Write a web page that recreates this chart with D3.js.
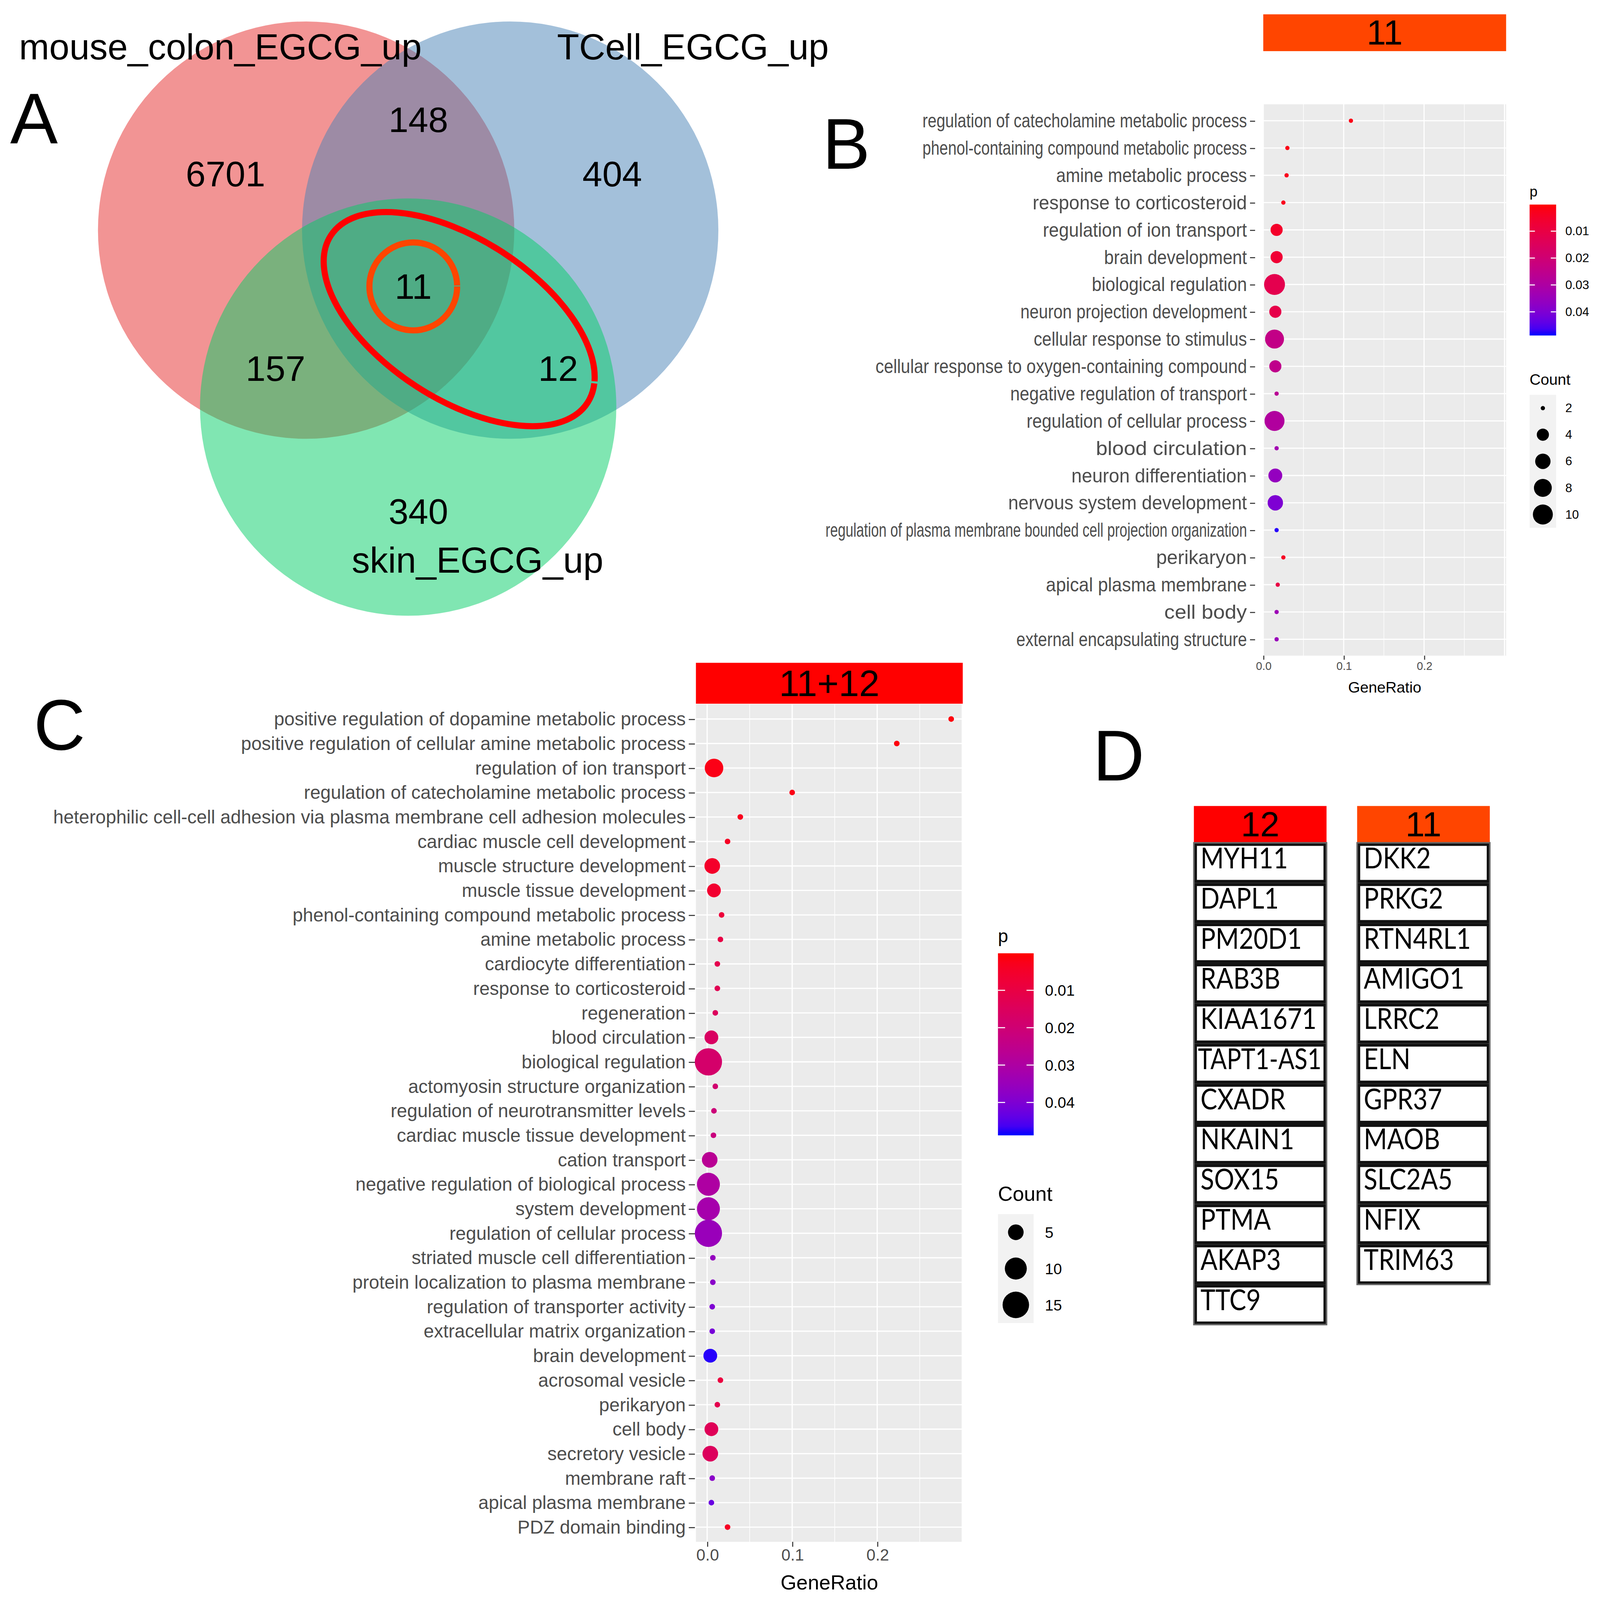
<!DOCTYPE html>
<html lang="en">
<head>
<meta charset="utf-8">
<title>EGCG overlap and GO enrichment</title>
<script src="https://cdn.jsdelivr.net/npm/d3@7"></script>
<style>
html, body { margin: 0; padding: 0; overflow: hidden; background: #fff; }
svg { display: block; width: 100vw; height: 100vh; }
text { font-family: "Liberation Sans", Arial, sans-serif; }
</style>
</head>
<body>
<script>
var W = 4212, H = 4202;
var vw = 1568, vh = vw * H / W;

// ---------- data ----------
var vennSets = ["mouse_colon_EGCG_up", "TCell_EGCG_up", "skin_EGCG_up"];
var vennRegions = ["colon", "colon_tcell", "tcell", "all", "colon_skin", "tcell_skin", "skin"];
var vennCounts = [6701, 148, 404, 11, 157, 12, 340];

var bTitle = "11";
var bTerms = [
  "regulation of catecholamine metabolic process",
  "phenol-containing compound metabolic process",
  "amine metabolic process",
  "response to corticosteroid",
  "regulation of ion transport",
  "brain development",
  "biological regulation",
  "neuron projection development",
  "cellular response to stimulus",
  "cellular response to oxygen-containing compound",
  "negative regulation of transport",
  "regulation of cellular process",
  "blood circulation",
  "neuron differentiation",
  "nervous system development",
  "regulation of plasma membrane bounded cell projection organization",
  "perikaryon",
  "apical plasma membrane",
  "cell body",
  "external encapsulating structure"
];
var bRatio = [0.109, 0.030, 0.029, 0.025, 0.0166, 0.0166, 0.014, 0.015, 0.014, 0.015,
              0.0166, 0.014, 0.0166, 0.015, 0.015, 0.0166, 0.025, 0.018, 0.0166, 0.0166];
var bCount = [2, 2, 2, 2, 4, 4, 11, 4, 9, 4, 2, 10, 2, 5, 6, 2, 2, 2, 2, 2];
var bP = [0.002, 0.002, 0.003, 0.003, 0.005, 0.007, 0.012, 0.011, 0.024, 0.025,
          0.027, 0.029, 0.033, 0.036, 0.040, 0.048, 0.004, 0.010, 0.034, 0.035];

var cTitle = "11+12";
var cTerms = [
  "positive regulation of dopamine metabolic process",
  "positive regulation of cellular amine metabolic process",
  "regulation of ion transport",
  "regulation of catecholamine metabolic process",
  "heterophilic cell-cell adhesion via plasma membrane cell adhesion molecules",
  "cardiac muscle cell development",
  "muscle structure development",
  "muscle tissue development",
  "phenol-containing compound metabolic process",
  "amine metabolic process",
  "cardiocyte differentiation",
  "response to corticosteroid",
  "regeneration",
  "blood circulation",
  "biological regulation",
  "actomyosin structure organization",
  "regulation of neurotransmitter levels",
  "cardiac muscle tissue development",
  "cation transport",
  "negative regulation of biological process",
  "system development",
  "regulation of cellular process",
  "striated muscle cell differentiation",
  "protein localization to plasma membrane",
  "regulation of transporter activity",
  "extracellular matrix organization",
  "brain development",
  "acrosomal vesicle",
  "perikaryon",
  "cell body",
  "secretory vesicle",
  "membrane raft",
  "apical plasma membrane",
  "PDZ domain binding"
];
var cRatio = [0.287, 0.223, 0.0081, 0.100, 0.039, 0.024, 0.006, 0.008, 0.017, 0.0156,
              0.012, 0.012, 0.0096, 0.005, 0.0015, 0.0096, 0.008, 0.0074, 0.003, 0.0015,
              0.0015, 0.0015, 0.0067, 0.0067, 0.006, 0.006, 0.0037, 0.0156, 0.012, 0.005,
              0.0037, 0.006, 0.005, 0.024];
var cCount = [2, 2, 7, 2, 2, 2, 5, 4, 2, 2, 2, 2, 2, 4, 16, 2, 2, 2, 5, 11,
              11, 16, 2, 2, 2, 2, 4, 2, 2, 4, 5, 2, 2, 2];
var cP = [0.001, 0.001, 0.002, 0.002, 0.003, 0.004, 0.005, 0.006, 0.008, 0.010,
          0.012, 0.013, 0.015, 0.016, 0.018, 0.019, 0.021, 0.022, 0.027, 0.030,
          0.032, 0.035, 0.036, 0.038, 0.040, 0.041, 0.048, 0.009, 0.012, 0.014,
          0.015, 0.038, 0.043, 0.004];

var ratioTicks = [0, 0.1, 0.2];
var pTicks = [0.01, 0.02, 0.03, 0.04];
var pRange = [0.0001, 0.0488];
var bCountBreaks = [2, 4, 6, 8, 10];
var cCountBreaks = [5, 10, 15];

var genes12 = ["MYH11", "DAPL1", "PM20D1", "RAB3B", "KIAA1671", "TAPT1-AS1",
               "CXADR", "NKAIN1", "SOX15", "PTMA", "AKAP3", "TTC9"];
var genes11 = ["DKK2", "PRKG2", "RTN4RL1", "AMIGO1", "LRRC2", "ELN",
               "GPR37", "MAOB", "SLC2A5", "NFIX", "TRIM63"];

// ---------- layout ----------
var red = "#ff0000", orange = "#ff4500";
var setFill = ["rgb(229,41,41)", "rgb(71,129,181)", "rgb(1,205,101)"];
var vennCircle = [[-1, 0], [1, 0], [0, 1.73]], vennR = 2.04;
var vennLabelAt = [[-1.84, -1.67], [2.79, -1.67], [0.68, 3.35]];
var regionAt = [[-1.79, -0.55], [0.1, -1.08], [2.0, -0.55], [0.05, 0.55],
                [-1.3, 1.35], [1.47, 1.35], [0.1, 2.75]];
// label widths of panel B (the pasted plot has squeezed labels)
var bLabelW = [318, 318, 187, 210, 200, 140, 152, 222, 209, 364, 232, 216, 148, 172,
               234, 413, 89, 197, 81, 226];

var pColor = d3.scaleLinear().domain(pRange).range([red, "#0000ff"])
               .interpolate(d3.interpolateLab);

var svg = d3.select("body").append("svg")
    .attr("viewBox", "0 0 " + vw + " " + vh)
    .attr("preserveAspectRatio", "none");

svg.append("rect").attr("width", vw).attr("height", vh).attr("fill", "#fff");

function letter(t, x, y) {
  svg.append("text").attr("x", x).attr("y", y).attr("font-size", 70).text(t);
}

// ---------- A: Venn ----------
var vx = d3.scaleLinear().domain([-1, 1]).range([300, 500]);
var vy = d3.scaleLinear().domain([0, 1]).range([225, 325]);
var unit = vx(1) - vx(0);
var gA = svg.append("g");

gA.selectAll("circle.set")
  .data(vennCircle)
  .enter().append("circle")
  .attr("class", "set")
  .attr("cx", function(d) { return vx(d[0]); })
  .attr("cy", function(d) { return vy(d[1]); })
  .attr("r", vennR * unit)
  .attr("fill", function(d, i) { return setFill[i]; })
  .attr("fill-opacity", 0.5);

gA.selectAll("text.region")
  .data(vennCounts)
  .enter().append("text")
  .attr("class", "region")
  .attr("x", function(d, i) { return vx(regionAt[i][0]); })
  .attr("y", function(d, i) { return vy(regionAt[i][1]); })
  .attr("text-anchor", "middle")
  .attr("dominant-baseline", "central")
  .attr("font-size", 35)
  .text(function(d) { return d; });

gA.selectAll("text.setname")
  .data(vennSets)
  .enter().append("text")
  .attr("class", "setname")
  .attr("x", function(d, i) { return vx(vennLabelAt[i][0]); })
  .attr("y", function(d, i) { return vy(vennLabelAt[i][1]); })
  .attr("text-anchor", "middle")
  .attr("font-size", 35.5)
  .text(function(d) { return d; });

// highlight of 11+12 and of 11 (hand drawn rings, each with a tiny break)
var ex = vx(0.5), ey = vy(0.87);
var ell = gA.append("ellipse")
  .attr("cx", ex).attr("cy", ey)
  .attr("rx", 1.5 * unit).attr("ry", 0.78 * unit)
  .attr("transform", "rotate(33," + ex + "," + ey + ")")
  .attr("fill", "none").attr("stroke", red).attr("stroke-width", 6);
var ellLen = ell.node().getTotalLength();
ell.attr("stroke-dasharray", (ellLen - 2) + " 2").attr("stroke-dashoffset", 20);
var ring = gA.append("circle")
  .attr("cx", vx(regionAt[3][0])).attr("cy", vy(regionAt[3][1]))
  .attr("r", 0.43 * unit)
  .attr("fill", "none").attr("stroke", orange).attr("stroke-width", 6);
var ringLen = 2 * Math.PI * 0.43 * unit;
ring.attr("stroke-dasharray", (ringLen - 1.2) + " 1.2");

letter("A", 10, 140);

// ---------- dot plot ----------
function dotPlot(o) {
  var g = svg.append("g");
  var x = d3.scaleLinear().domain(o.xDomain).range([o.x0, o.x1]);
  var y = d3.scalePoint().domain(o.terms).range([o.y0, o.y1]).padding(0.6);
  var cMin = o.countDomain[0], cMax = o.countDomain[1];
  var r = d3.scaleSqrt().domain([0, cMax - cMin]).range([o.d[0] / 2, o.d[1] / 2]);
  function rad(c) { return r(c - cMin); }

  // strip
  g.append("rect")
    .attr("x", o.x0).attr("y", o.stripY)
    .attr("width", o.x1 - o.x0).attr("height", o.y0 - o.stripY - o.stripGap)
    .attr("fill", o.stripFill);
  g.append("text")
    .attr("x", (o.x0 + o.x1) / 2).attr("y", (o.stripY + o.y0 - o.stripGap) / 2)
    .attr("text-anchor", "middle").attr("dominant-baseline", "central")
    .attr("font-size", o.stripFont)
    .text(o.title);

  // panel and grid
  g.append("rect")
    .attr("x", o.x0).attr("y", o.y0)
    .attr("width", o.x1 - o.x0).attr("height", o.y1 - o.y0)
    .attr("fill", "#ebebeb");
  var minor = [-0.05, 0.05, 0.15, 0.25].filter(function(v) {
    return v > o.xDomain[0] && v < o.xDomain[1];
  });
  var major = [0, 0.1, 0.2, 0.3].filter(function(v) {
    return v >= o.xDomain[0] && v <= o.xDomain[1];
  });
  g.selectAll("line.minor").data(minor).enter().append("line")
    .attr("x1", x).attr("x2", x).attr("y1", o.y0).attr("y2", o.y1)
    .attr("stroke", "#fff").attr("stroke-width", o.grid / 2);
  g.selectAll("line.majx").data(major).enter().append("line")
    .attr("x1", x).attr("x2", x).attr("y1", o.y0).attr("y2", o.y1)
    .attr("stroke", "#fff").attr("stroke-width", o.grid);
  g.selectAll("line.majy").data(o.terms).enter().append("line")
    .attr("x1", o.x0).attr("x2", o.x1)
    .attr("y1", y).attr("y2", y)
    .attr("stroke", "#fff").attr("stroke-width", o.grid);

  // points
  g.selectAll("circle.pt")
    .data(o.terms)
    .enter().append("circle")
    .attr("cx", function(d, i) { return x(o.ratio[i]); })
    .attr("cy", function(d) { return y(d); })
    .attr("r", function(d, i) { return rad(o.count[i]); })
    .attr("fill", function(d, i) { return pColor(o.p[i]); });

  // axes
  var ay = g.append("g")
    .attr("transform", "translate(" + o.axisX + ",0)")
    .call(d3.axisLeft(y).tickSize(o.tick).tickPadding(3).tickSizeOuter(0));
  ay.select(".domain").remove();
  ay.selectAll("line").attr("stroke", "#333");
  ay.selectAll("text")
    .attr("fill", "#4d4d4d")
    .attr("font-size", o.labelFont)
    .style("font-family", o.labelFamily);
  if (o.labelW) {
    ay.selectAll("text")
      .attr("textLength", function(d, i) { return o.labelW[i]; })
      .attr("lengthAdjust", "spacingAndGlyphs");
  }

  var ax = g.append("g")
    .attr("transform", "translate(0," + o.y1 + ")")
    .call(d3.axisBottom(x).tickValues(ratioTicks).tickFormat(d3.format(".1f"))
      .tickSize(o.tick * 0.8).tickPadding(2).tickSizeOuter(0));
  ax.select(".domain").remove();
  ax.selectAll("line").attr("stroke", "#333");
  ax.selectAll("text").attr("fill", "#4d4d4d").attr("font-size", o.xFont);
  g.append("text")
    .attr("x", (o.x0 + o.x1) / 2).attr("y", o.xTitleY)
    .attr("text-anchor", "middle").attr("font-size", o.xTitleFont)
    .text("GeneRatio");

  // colour bar
  var L = o.legend;
  var gradId = "grad" + o.title.replace(/\W/g, "");
  var grad = svg.append("defs").append("linearGradient")
    .attr("id", gradId).attr("x1", 0).attr("y1", 0).attr("x2", 0).attr("y2", 1);
  grad.selectAll("stop").data(d3.range(0, 1.0001, 0.05)).enter().append("stop")
    .attr("offset", function(t) { return t; })
    .attr("stop-color", function(t) { return pColor(pRange[0] + t * (pRange[1] - pRange[0])); });
  var py = d3.scaleLinear().domain(pRange).range([L.barY0, L.barY1]);
  g.append("text").attr("x", L.x).attr("y", L.barY0 - L.titleGap)
    .attr("font-size", L.titleFont).text("p");
  g.append("rect").attr("x", L.x).attr("y", L.barY0)
    .attr("width", L.w).attr("height", L.barY1 - L.barY0)
    .attr("fill", "url(#" + gradId + ")");
  g.selectAll("line.pt1").data(pTicks).enter().append("line")
    .attr("x1", L.x).attr("x2", L.x + L.w * 0.2)
    .attr("y1", py).attr("y2", py).attr("stroke", "#fff").attr("stroke-width", 1);
  g.selectAll("line.pt2").data(pTicks).enter().append("line")
    .attr("x1", L.x + L.w * 0.8).attr("x2", L.x + L.w)
    .attr("y1", py).attr("y2", py).attr("stroke", "#fff").attr("stroke-width", 1);
  g.selectAll("text.pl").data(pTicks).enter().append("text")
    .attr("x", L.x + L.w + L.labelGap).attr("y", py)
    .attr("dominant-baseline", "central")
    .attr("font-size", L.labelFont).text(function(d) { return d; });

  // size legend
  g.append("text").attr("x", L.x).attr("y", L.countY)
    .attr("font-size", L.countFont).text("Count");
  var ky = d3.scaleBand().domain(o.breaks)
    .range([L.keyY0, L.keyY0 + L.keyH * o.breaks.length]);
  g.append("rect").attr("x", L.x).attr("y", L.keyY0)
    .attr("width", L.w).attr("height", L.keyH * o.breaks.length)
    .attr("fill", "#f2f2f2");
  g.selectAll("circle.key").data(o.breaks).enter().append("circle")
    .attr("cx", L.x + L.w / 2)
    .attr("cy", function(d) { return ky(d) + ky.bandwidth() / 2; })
    .attr("r", rad).attr("fill", "#000");
  g.selectAll("text.kl").data(o.breaks).enter().append("text")
    .attr("x", L.x + L.w + L.labelGap)
    .attr("y", function(d) { return ky(d) + ky.bandwidth() / 2; })
    .attr("dominant-baseline", "central")
    .attr("font-size", L.labelFont).text(function(d) { return d; });
}

// ---------- B ----------
dotPlot({
  title: bTitle, terms: bTerms, ratio: bRatio, count: bCount, p: bP,
  x0: 1238, x1: 1476, y0: 102, y1: 641, xDomain: [0, 0.302],
  stripY: 14, stripGap: 52, stripFill: orange, stripFont: 34,
  countDomain: [2, 11], d: [4.2, 20.5], breaks: bCountBreaks,
  axisX: 1230, tick: 5, labelFont: 19, labelFamily: "'Liberation Sans Narrow', 'Liberation Sans', sans-serif",
  labelW: bLabelW, grid: 1.1, xFont: 11, xTitleY: 677, xTitleFont: 15,
  legend: { x: 1499, w: 26, barY0: 200, barY1: 328, titleGap: 8, titleFont: 14,
            labelGap: 9, labelFont: 12, countY: 376, countFont: 15,
            keyY0: 386, keyH: 26 }
});
letter("B", 806, 165);

// ---------- C ----------
dotPlot({
  title: cTitle, terms: cTerms, ratio: cRatio, count: cCount, p: cP,
  x0: 682, x1: 943.5, y0: 688.6, y1: 1507.4, xDomain: [-0.0132, 0.3006],
  stripY: 648, stripGap: 0.6, stripFill: red, stripFont: 36,
  countDomain: [2, 16], d: [5.5, 26.7], breaks: cCountBreaks,
  axisX: 681, tick: 6, labelFont: 18.2, labelFamily: "'Liberation Sans', Arial, sans-serif",
  labelW: null, grid: 1.2, xFont: 16, xTitleY: 1554, xTitleFont: 20,
  legend: { x: 978, w: 35, barY0: 932, barY1: 1110, titleGap: 11, titleFont: 18,
            labelGap: 11, labelFont: 15, countY: 1174, countFont: 20,
            keyY0: 1187, keyH: 35.5 }
});
letter("C", 33, 733);

// ---------- D: gene tables ----------
function geneTable(x, head, fill, genes) {
  var g = svg.append("g");
  var top = 788, headH = 36, rowH = 39.25, w = 130;
  var ry = d3.scaleBand().domain(d3.range(genes.length))
    .range([top + headH, top + headH + rowH * genes.length]);
  g.append("rect").attr("x", x).attr("y", top).attr("width", w).attr("height", headH)
    .attr("fill", fill);
  g.append("text").attr("x", x + w / 2).attr("y", top + 29.5)
    .attr("text-anchor", "middle")
    .attr("font-size", 34).text(head);
  g.selectAll("rect.cell").data(genes).enter().append("rect")
    .attr("x", x + 1.5).attr("y", function(d, i) { return ry(i) + 1.5; })
    .attr("width", w - 3).attr("height", ry.bandwidth() - 3)
    .attr("fill", "#fff").attr("stroke", "#111").attr("stroke-width", 3);
  g.append("rect").attr("x", x).attr("y", top + headH)
    .attr("width", w).attr("height", rowH * genes.length)
    .attr("fill", "none").attr("stroke", "#666").attr("stroke-width", 1.5);
  g.selectAll("text.gene").data(genes).enter().append("text")
    .attr("x", x + 6.5).attr("y", function(d, i) { return ry(i) + 25; })
    .attr("font-size", 28).style("font-family", "Lato, 'Open Sans', sans-serif")
    .text(function(d) { return d; })
    .each(function() {
      // a narrow face like the table's original font; long names stay inside the cell
      var maxW = w - 9;
      var tw = this.getComputedTextLength() * 0.88;
      if (tw > maxW) {
        tw = maxW;
        d3.select(this).attr("x", x + 4);
      }
      d3.select(this).attr("textLength", tw).attr("lengthAdjust", "spacingAndGlyphs");
    });
}
geneTable(1170, "12", red, genes12);
geneTable(1330, "11", orange, genes11);
letter("D", 1071, 763);
</script>
</body>
</html>
